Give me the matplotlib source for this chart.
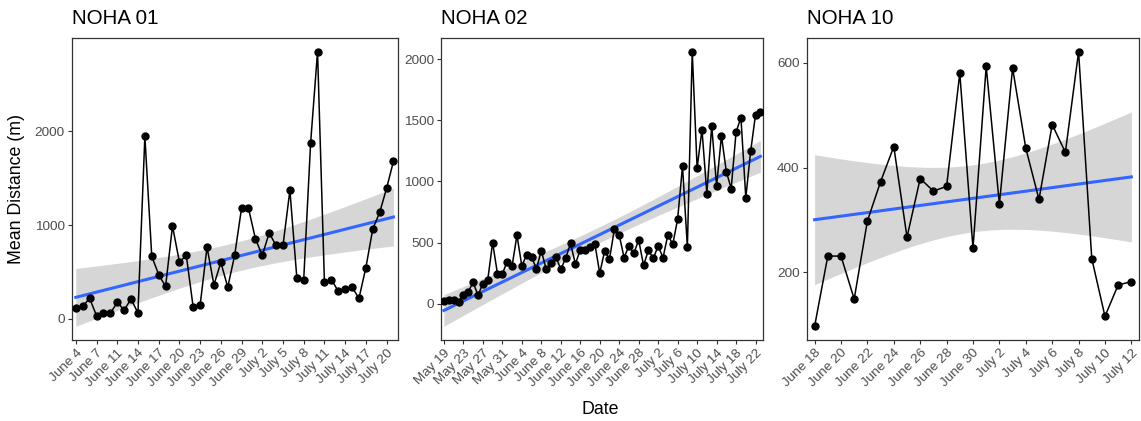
import numpy as np
import matplotlib
matplotlib.use("Agg")
import matplotlib.pyplot as plt

plt.rcParams['font.family'] = ['Liberation Sans', 'DejaVu Sans']

# NOHA 01: daily mean distance, June 4 - July 21 (one day missing)
noha01_ticks = ["June 4", "June 7", "June 11", "June 14", "June 17", "June 20",
                "June 23", "June 26", "June 29", "July 2", "July 5", "July 8",
                "July 11", "July 14", "July 17", "July 20"]
noha01_dist = [120, 134, 219, 35, 60, 60, 176, 95, 212, 63,
               1947, 667, 473, 346, 991, 607, 677, 123, 145, 765,
               363, 603, 339, 677, 1182, 1182, 857, 677, 917, 783,
               783, 1372, 441, 420, 1877, 2850, 392, 420, 296, 321,
               339, 219, 547, 959, 1136, 1393, 1683]

# NOHA 02: May 19 - July 23
noha02_ticks = ["May 19", "May 23", "May 27", "May 31", "June 4", "June 8",
                "June 12", "June 16", "June 20", "June 24", "June 28", "July 2",
                "July 6", "July 10", "July 14", "July 18", "July 22"]
noha02_dist = [20, 30, 35, 18, 75, 100, 175, 70, 165, 195,
               500, 245, 245, 345, 310, 560, 310, 400, 385, 285,
               435, 282, 331, 385, 282, 372, 494, 326, 440, 440,
               467, 490, 250, 430, 364, 608, 562, 378, 473, 412,
               521, 315, 437, 372, 472, 377, 564, 486, 692, 1126,
               463, 2060, 1110, 1422, 901, 1455, 963, 1373, 1080, 942,
               1403, 1522, 868, 1248, 1547, 1569]

# NOHA 10: June 18 - July 12
noha10_ticks = ["June 18", "June 20", "June 22", "June 24", "June 26", "June 28",
                "June 30", "July 2", "July 4", "July 6", "July 8", "July 10",
                "July 12"]
noha10_dist = [97, 231, 231, 149, 298, 373, 440, 267, 379, 355,
               364, 580, 246, 593, 330, 590, 437, 339, 482, 429,
               621, 226, 116, 176, 182]


def t_crit(df, z=1.959964):
    # Cornish-Fisher approximation of the 97.5% Student t quantile
    return (z + (z**3 + z) / (4 * df)
            + (5 * z**5 + 16 * z**3 + 3 * z) / (96 * df**2)
            + (3 * z**7 + 19 * z**5 + 17 * z**3 - 15 * z) / (384 * df**3))


def draw_panel(ax, title, dist, tick_labels, tick_step, yticks):
    y = np.asarray(dist, dtype=float)
    n = len(y)
    x = np.arange(n)

    # linear fit with 95% confidence band, like geom_smooth(method = "lm")
    slope, icpt = np.polyfit(x, y, 1)
    resid = y - (icpt + slope * x)
    s = np.sqrt(np.sum(resid ** 2) / (n - 2))
    xs = np.linspace(0, n - 1, 100)
    ys = icpt + slope * xs
    se = s * np.sqrt(1 / n + (xs - x.mean()) ** 2 / np.sum((x - x.mean()) ** 2))
    tq = t_crit(n - 2)
    lo, hi = ys - tq * se, ys + tq * se

    ax.fill_between(xs, lo, hi, color='#999999', alpha=0.4, lw=0, zorder=1)
    ax.plot(xs, ys, color='#3366FF', lw=2.2, zorder=2)
    ax.plot(x, y, color='black', lw=1.1, zorder=3)
    ax.plot(x, y, 'o', color='black', ms=5, zorder=4)

    ymin = min(y.min(), lo.min())
    ymax = max(y.max(), hi.max())
    pad = 0.05 * (ymax - ymin)
    ax.set_ylim(ymin - pad, ymax + pad)
    ax.set_xlim(-0.6, n - 1 + 0.6)

    ax.set_xticks(np.arange(len(tick_labels)) * tick_step)
    ax.set_xticklabels(tick_labels, rotation=45, ha='right', va='top',
                       rotation_mode='anchor')
    ax.set_yticks(yticks)
    ax.tick_params(length=3, width=0.8, color='#333333', labelcolor='#4D4D4D',
                   labelsize=9.7, pad=2)
    for sp in ax.spines.values():
        sp.set_color('#333333')
        sp.set_linewidth(0.9)
    ax.set_title(title, loc='left', fontsize=14.8, pad=10)


fig = plt.figure(figsize=(11.41, 4.21), dpi=100)
ax1 = fig.add_axes([0.0628, 0.1924, 0.2857, 0.7173])
ax2 = fig.add_axes([0.3865, 0.1924, 0.2825, 0.7173])
ax3 = fig.add_axes([0.7070, 0.1924, 0.2915, 0.7173])

draw_panel(ax1, "NOHA 01", noha01_dist, noha01_ticks, 3, [0, 1000, 2000])
draw_panel(ax2, "NOHA 02", noha02_dist, noha02_ticks, 4, [0, 500, 1000, 1500, 2000])
draw_panel(ax3, "NOHA 10", noha10_dist, noha10_ticks, 2, [200, 400, 600])

fig.text(17 / 1141, 1 - 189 / 421, "Mean Distance (m)", rotation=90,
         ha='center', va='center', fontsize=12.8)
fig.text(600 / 1141, 1 - 409 / 421, "Date", ha='center', va='center',
         fontsize=12.8)

fig.savefig("out.png", dpi=100)
